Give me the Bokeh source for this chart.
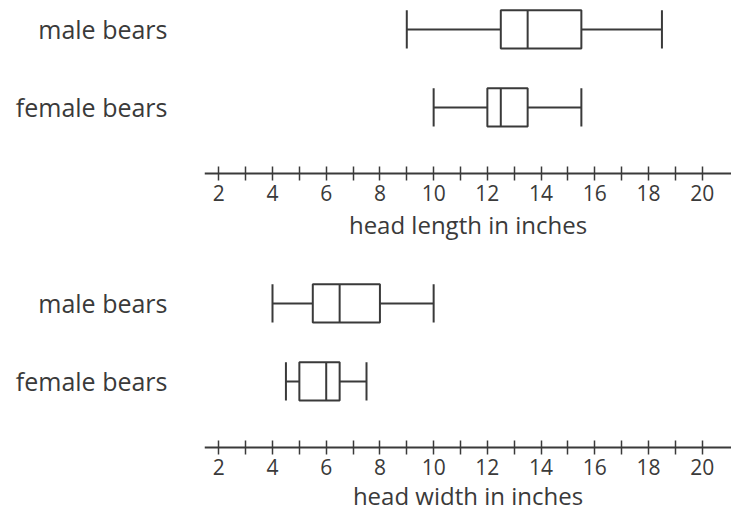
from bokeh.plotting import figure
from bokeh.layouts import column
from bokeh.models import FixedTicker, ColumnDataSource
from bokeh.embed import file_html
from bokeh.resources import INLINE

# ---- data ----
groups = ["male bears", "female bears"]
group_pos = [2, 1]

length_min = [9, 10]
length_q1 = [12.5, 12]
length_med = [13.5, 12.5]
length_q3 = [15.5, 13.5]
length_max = [18.5, 15.5]

width_min = [4, 4.5]
width_q1 = [5.5, 5]
width_med = [6.5, 6]
width_q3 = [8, 6.5]
width_max = [10, 7.5]

major_ticks = list(range(2, 21, 2))
minor_ticks = list(range(3, 20, 2))

INK = "#3a3a3a"
FONT = "Open Sans"
BOX_H = 0.49
PX_PER_ROW = 78.0
Y_TOP = 2.269
AXIS_Y = 0.158


def make_fig(title, mins, q1s, meds, q3s, maxs, height, border_top, title_standoff):
    frame_h = height - border_top
    y_bottom = Y_TOP - frame_h / PX_PER_ROW
    p = figure(width=731, height=height, output_backend="svg", toolbar_location=None,
               x_range=(1.468, 21.09), y_range=(y_bottom, Y_TOP),
               min_border_left=204, min_border_right=0,
               min_border_top=border_top, min_border_bottom=0)
    p.outline_line_color = None
    p.grid.visible = False
    p.background_fill_color = "white"
    p.border_fill_color = "white"

    src = ColumnDataSource(dict(y=group_pos, lo=mins, q1=q1s, med=meds, q3=q3s, hi=maxs,
                                top=[g + BOX_H / 2 for g in group_pos],
                                bot=[g - BOX_H / 2 for g in group_pos]))
    # whiskers
    p.segment(x0="lo", y0="y", x1="q1", y1="y", source=src, line_color=INK, line_width=2)
    p.segment(x0="q3", y0="y", x1="hi", y1="y", source=src, line_color=INK, line_width=2)
    # caps
    p.segment(x0="lo", y0="bot", x1="lo", y1="top", source=src, line_color=INK, line_width=2)
    p.segment(x0="hi", y0="bot", x1="hi", y1="top", source=src, line_color=INK, line_width=2)
    # boxes
    p.quad(left="q1", right="q3", bottom="bot", top="top", source=src,
           fill_color="white", line_color=INK, line_width=2)
    # medians
    p.segment(x0="med", y0="bot", x1="med", y1="top", source=src, line_color=INK, line_width=2)

    xa = p.xaxis[0]
    xa.fixed_location = AXIS_Y
    xa.ticker = FixedTicker(ticks=major_ticks, minor_ticks=minor_ticks)
    xa.axis_line_color = INK
    xa.axis_line_width = 2
    xa.major_tick_line_color = INK
    xa.minor_tick_line_color = INK
    xa.major_tick_line_width = 1.5
    xa.minor_tick_line_width = 1.5
    xa.major_tick_in = 7
    xa.major_tick_out = 7
    xa.minor_tick_in = 7
    xa.minor_tick_out = 7
    xa.major_label_text_font = FONT
    xa.major_label_text_font_size = "21px"
    xa.major_label_text_color = INK
    xa.major_label_standoff = 5
    xa.axis_label = title
    xa.axis_label_text_font = FONT
    xa.axis_label_text_font_size = "24px"
    xa.axis_label_text_font_style = "normal"
    xa.axis_label_text_color = INK
    xa.axis_label_standoff = title_standoff

    ya = p.yaxis[0]
    ya.ticker = FixedTicker(ticks=group_pos)
    ya.major_label_overrides = {g: n for g, n in zip(group_pos, groups)}
    ya.axis_line_color = None
    ya.major_tick_line_color = None
    ya.minor_tick_line_color = None
    ya.major_label_text_font = FONT
    ya.major_label_text_font_size = "25px"
    ya.major_label_text_color = INK
    ya.major_label_standoff = 31
    return p


p1 = make_fig("head length in inches", length_min, length_q1, length_med, length_q3, length_max,
              height=258, border_top=8, title_standoff=3)
p2 = make_fig("head width in inches", width_min, width_q1, width_med, width_q3, width_max,
              height=254, border_top=24, title_standoff=0)

layout = column(p1, p2, spacing=0)
open("out.html", "w").write(file_html(layout, INLINE))
